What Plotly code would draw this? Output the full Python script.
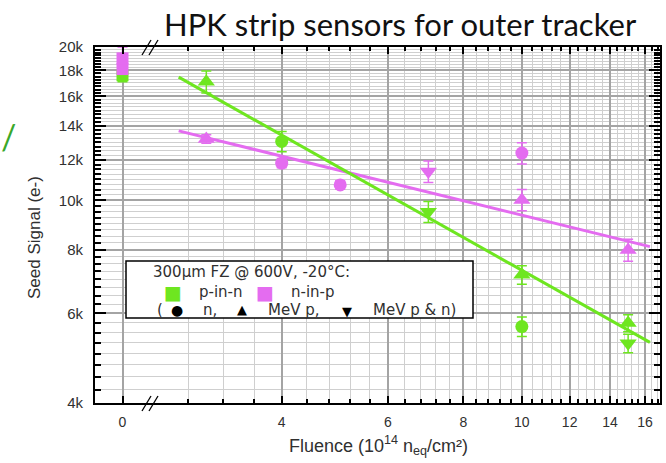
import math
import plotly.graph_objects as go

# ---- data -------------------------------------------------------------
# unirradiated reference points (fluence 0)
zero_pinn_signal = [17600]
zero_pinn_err = [500]
zero_ninp_signal = [18100, 19000]
zero_ninp_err = [300, 1000]

# irradiated p-in-n sensors (green)
pinn_fluence = [3, 4, 7, 10, 10, 15, 15]
pinn_signal = [17100, 13050, 9500, 7140, 5650, 5740, 5240]
pinn_err = [850, 600, 450, 300, 250, 220, 220]
pinn_source = ["p", "n", "pn", "p", "n", "p", "pn"]

# irradiated n-in-p sensors (magenta)
ninp_fluence = [3, 4, 5, 7, 10, 10, 15]
ninp_signal = [13200, 11830, 10720, 11390, 12380, 10020, 7990]
ninp_err = [250, 250, 200, 550, 600, 480, 400]
ninp_source = ["p", "n", "n", "pn", "n", "p", "p"]

# power-law fits (straight on log-log)
fit_fluence = [2.7, 16.3]
pinn_fit = [17450, 5260]
ninp_fit = [13690, 8110]

y_tick_vals = [4000, 6000, 8000, 10000, 12000, 14000, 16000, 18000, 20000]
y_tick_text = ["4k", "6k", "8k", "10k", "12k", "14k", "16k", "18k", "20k"]
x_tick_vals = [4, 6, 8, 10, 12, 14, 16]
x_tick_text = ["4", "6", "8", "10", "12", "14", "16"]

# ---- style ------------------------------------------------------------
GREEN = "#6ee620"
PINK = "#e46cf0"
SYMBOLS = {"n": "circle", "p": "triangle-up", "pn": "triangle-down"}
SIZES = {"n": 13, "p": 15, "pn": 15}
FONT = "Liberation Sans, Arial, sans-serif"
WIDE = "DejaVu Sans, sans-serif"
TXT = "#303030"

W, H = 666, 463
ML, MR, MT, MB = 95, 6, 47, 60
PW, PH = W - ML - MR, H - MT - MB


def px(x):
    return (x - ML) / PW


def py(y):
    return (H - MB - y) / PH


BREAK = px(150)

fig = go.Figure()

# fit lines
for vals, col in ((ninp_fit, PINK), (pinn_fit, GREEN)):
    fig.add_trace(go.Scatter(x=fit_fluence, y=vals, mode="lines",
                             line=dict(color=col, width=3),
                             xaxis="x2", yaxis="y2", hoverinfo="skip"))


def add_points(fl, sig, err, src, col):
    for f, s, e, k in zip(fl, sig, err, src):
        fig.add_trace(go.Scatter(
            x=[f], y=[s], mode="markers", xaxis="x2", yaxis="y2",
            marker=dict(symbol=SYMBOLS[k], size=SIZES[k], color=col,
                        line=dict(width=0)),
            error_y=dict(type="data", array=[e], color=col,
                         thickness=1.5, width=5)))


add_points(ninp_fluence, ninp_signal, ninp_err, ninp_source, PINK)
add_points(pinn_fluence, pinn_signal, pinn_err, pinn_source, GREEN)

# fluence 0 column
fig.add_trace(go.Scatter(
    x=[0] * len(zero_pinn_signal), y=zero_pinn_signal, mode="markers",
    marker=dict(symbol="square", size=12, color=GREEN),
    error_y=dict(type="data", array=zero_pinn_err, color=GREEN,
                 thickness=1.5, width=5)))
fig.add_trace(go.Scatter(
    x=[0] * len(zero_ninp_signal), y=zero_ninp_signal, mode="markers",
    marker=dict(symbol="square", size=12, color=PINK),
    error_y=dict(type="data", array=zero_ninp_err,
                 arrayminus=[0] * len(zero_ninp_err), color=PINK,
                 thickness=1.5, width=5)))

MAJOR_GRID = "#a4a4a4"
MINOR_GRID = "#cfcfcf"

y_minor = [v for v in range(4000, 20001, 250) if v % 2000]
x_minor = [round(2.4 + 0.4 * i, 1) for i in range(37)]
x_minor = [v for v in x_minor if abs(v - round(v)) > 0.01 or int(round(v)) % 2]

axis_common = dict(showline=True, linecolor="black", linewidth=2,
                   ticks="inside", tickcolor="black", tickwidth=1.5,
                   zeroline=False, gridcolor=MAJOR_GRID, gridwidth=1.5)
x_font = dict(family=FONT, size=14, color=TXT)
y_font = dict(family=FONT, size=15, color=TXT)

y_range = [math.log10(4000), math.log10(20000)]

fig.update_layout(
    width=W, height=H, margin=dict(l=ML, r=MR, t=MT, b=MB),
    paper_bgcolor="white", plot_bgcolor="white", showlegend=False,
    xaxis=dict(domain=[0, BREAK], range=[-0.5, 0.5], anchor="y",
               tickmode="array", tickvals=[0], ticktext=["0"],
               ticklen=7, mirror="ticks", showgrid=True, tickfont=x_font,
               ticklabelstandoff=5, **axis_common),
    xaxis2=dict(domain=[BREAK, 1], type="log", anchor="y2",
                range=[math.log10(2.42), math.log10(16.94)],
                tickmode="array", tickvals=x_tick_vals, ticktext=x_tick_text,
                ticklen=7, mirror="ticks", showgrid=True, tickfont=x_font,
                ticklabelstandoff=5,
                minor=dict(tickmode="array", tickvals=x_minor, ticks="inside",
                           ticklen=4, tickcolor="black", showgrid=True,
                           gridcolor=MINOR_GRID, gridwidth=1),
                **axis_common),
    yaxis=dict(type="log", range=y_range, anchor="x",
               tickmode="array", tickvals=y_tick_vals, ticktext=y_tick_text,
               ticklen=11, showgrid=True, ticklabelstandoff=7,
               tickfont=y_font,
               minor=dict(tickmode="array", tickvals=y_minor, ticks="inside",
                          ticklen=6, tickcolor="black", showgrid=True,
                          gridcolor=MINOR_GRID, gridwidth=1),
               **axis_common),
    yaxis2=dict(type="log", range=y_range, anchor="x2", matches="y",
                side="right", showticklabels=False,
                tickmode="array", tickvals=y_tick_vals, ticklen=11,
                showgrid=True,
                minor=dict(tickmode="array", tickvals=y_minor, ticks="inside",
                           ticklen=6, tickcolor="black", showgrid=True,
                           gridcolor=MINOR_GRID, gridwidth=1),
                **axis_common),
)

# axis-break marks on the bottom and top spines
shapes = []
for yb in (H - MB, MT):
    for dx in (0, 7):
        shapes.append(dict(type="line", xref="paper", yref="paper",
                           x0=px(142 + dx), y0=py(yb + 8),
                           x1=px(151 + dx), y1=py(yb - 7),
                           line=dict(color="black", width=1.3)))

# legend box
shapes.append(dict(type="rect", xref="paper", yref="paper",
                   x0=px(126), x1=px(473), y0=py(318), y1=py(261),
                   fillcolor="white", line=dict(color="black", width=1.5),
                   layer="above"))
fig.update_layout(shapes=shapes)

ann = []


def note(x, y, text, size=15, color=TXT, anchor="left", family=WIDE, **kw):
    ann.append(dict(x=px(x), y=py(y), xref="paper", yref="paper",
                    text=text, showarrow=False, xanchor=anchor,
                    yanchor="middle",
                    font=dict(family=family, size=size, color=color), **kw))


note(151, 272, "300µm FZ @ 600V, -20°C:")
note(173, 292, "■", size=19, color=GREEN, anchor="center")
note(197, 292, "p-in-n")
note(265, 292, "■", size=19, color=PINK, anchor="center")
note(289, 292, "n-in-p")
note(155, 310, "(")
note(177, 310, "●", size=14, color="black", anchor="center")
note(201, 310, "n,")
note(242, 309, "▲", size=13, color="black", anchor="center")
note(266, 310, "MeV p,")
note(347, 311, "▼", size=13, color="black", anchor="center")
note(371, 310, "MeV p & n)")

# axis titles
note(35, 238, "Seed Signal (e-)", size=17, anchor="center", textangle=-90,
     family=FONT)
note(378, 445, "Fluence (10<sup>14</sup> n<sub>eq</sub>/cm²)", size=18,
     anchor="center", family=FONT)

# heading
note(400, 24, "HPK strip sensors for outer tracker", size=31,
     color="#111111", anchor="center", family="Lato, sans-serif")
# stray green glyph at the left edge
note(8, 136, "/", size=34, color="#3aa82a", anchor="center",
     family="Lato, sans-serif")

fig.update_layout(annotations=ann)

fig.write_html("out.html")
